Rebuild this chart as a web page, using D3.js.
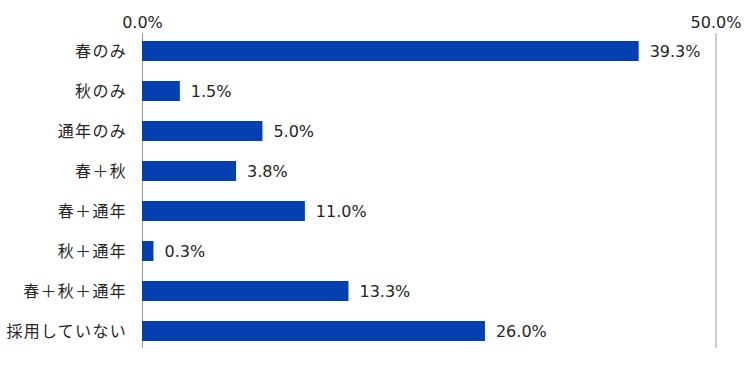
<!DOCTYPE html>
<html>
<head>
<meta charset="utf-8">
<script src="https://cdn.jsdelivr.net/npm/d3@7"></script>
<style>
  body { margin: 0; background: #fff; }
  svg { display: block; }
  .cat { font-family: "Noto Sans CJK JP", sans-serif; font-size: 16px; fill: #262626; letter-spacing: 1.3px; }
  .val, .tick text { font-family: "DejaVu Sans", sans-serif; font-size: 16px; fill: #262626; }
</style>
</head>
<body>
<svg></svg>
<script>
// categories (top to bottom)
const categories = ["春のみ", "秋のみ", "通年のみ", "春＋秋", "春＋通年", "秋＋通年", "春＋秋＋通年", "採用していない"];
// data labels as printed next to the bars
const labels = [39.3, 1.5, 5.0, 3.8, 11.0, 0.3, 13.3, 26.0];
// bar lengths (the picture's bars don't follow the labels)
const lengths = [43.3, 3.3, 10.5, 8.2, 14.2, 1.0, 18.0, 29.9];
const tickValues = [0, 50];

const width = 750, height = 370;
const svg = d3.select("svg").attr("width", width).attr("height", height);

const x = d3.scaleLinear().domain([0, 50]).range([142, 715.5]);
const y = d3.scaleBand().domain(categories).range([31, 351])
  .paddingInner(0.5).paddingOuter(0.25);

// top axis with the vertical lines at 0% and 50%
const axisTop = 33;
const axis = svg.append("g")
  .attr("transform", "translate(0," + axisTop + ")")
  .call(d3.axisTop(x).tickValues(tickValues).tickSize(-315).tickPadding(5)
    .tickFormat(d => d.toFixed(1) + "%"));
axis.select(".domain").remove();
axis.selectAll(".tick line").attr("stroke", "#9a9a9a");
axis.selectAll(".tick text").attr("font-size", null).attr("font-family", null);

// bars
svg.selectAll("rect.bar")
  .data(categories)
  .enter()
  .append("rect")
    .attr("class", "bar")
    .attr("x", x(0))
    .attr("y", d => y(d))
    .attr("width", (d, i) => x(lengths[i]) - x(0))
    .attr("height", y.bandwidth())
    .attr("fill", "#0540b0");

// value labels
svg.selectAll("text.val")
  .data(categories)
  .enter()
  .append("text")
    .attr("class", "val")
    .attr("x", (d, i) => x(lengths[i]) + 11)
    .attr("y", d => y(d) + y.bandwidth() / 2)
    .attr("dy", "0.36em")
    .text((d, i) => labels[i].toFixed(1) + "%");

// category labels
svg.selectAll("text.cat")
  .data(categories)
  .enter()
  .append("text")
    .attr("class", "cat")
    .attr("x", 127)
    .attr("y", d => y(d) + y.bandwidth() / 2)
    .attr("dy", "0.36em")
    .attr("text-anchor", "end")
    .text(d => d);
</script>
</body>
</html>
